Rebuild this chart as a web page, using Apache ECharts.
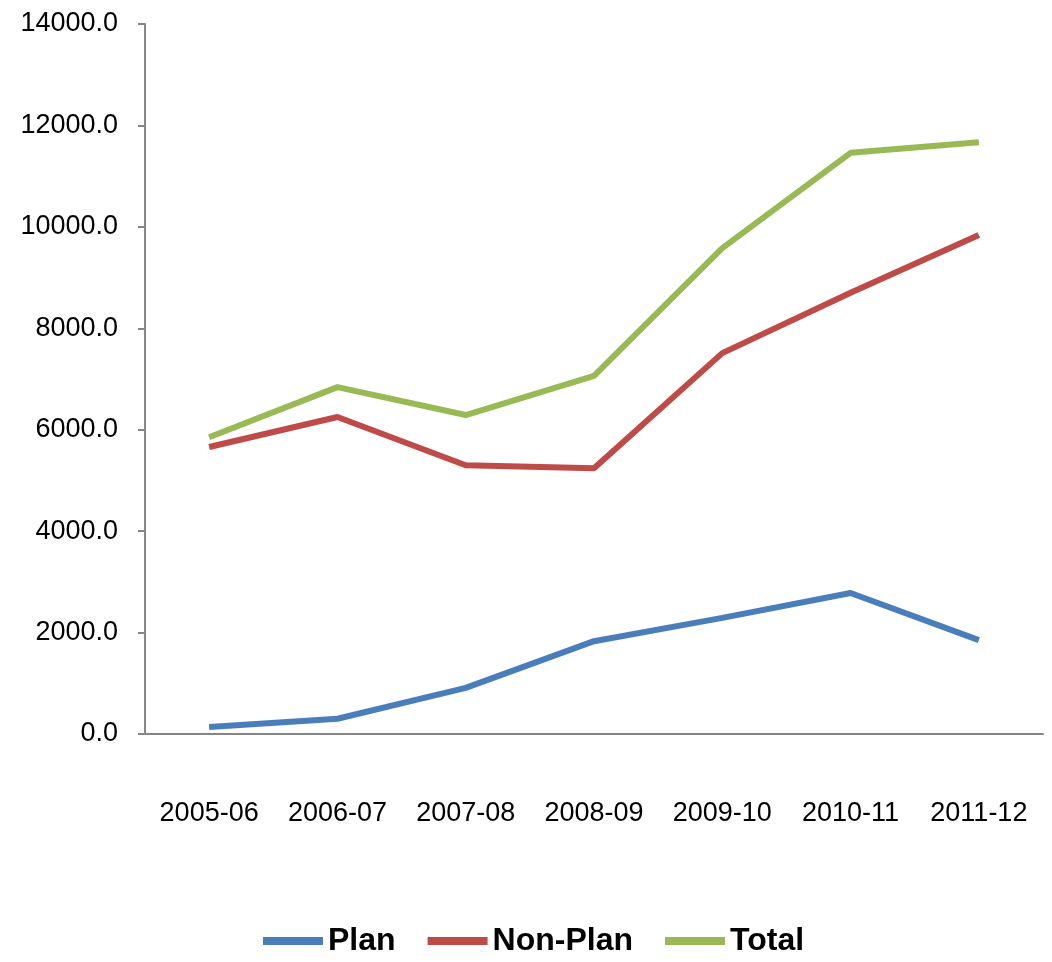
<!DOCTYPE html>
<html lang="en">
<head>
    <meta charset="UTF-8">
    <title>Plan / Non-Plan</title>
    <script src="https://cdn.jsdelivr.net/npm/echarts@6/dist/echarts.min.js"></script>
    <style>
        html, body { margin: 0; padding: 0; background: #fff; }
        #chart { width: 1052px; height: 962px; }
    </style>
</head>
<body>
<div id="chart"></div>
<script type="text/javascript">
    let years = ['2005-06', '2006-07', '2007-08', '2008-09', '2009-10', '2010-11', '2011-12'];
    let plan = [140, 300, 910, 1830, 2290, 2780, 1850];
    let nonPlan = [5660, 6250, 5300, 5240, 7510, 8700, 9840];
    let total = [5850, 6840, 6290, 7060, 9580, 11460, 11670];

    let font = '"Liberation Sans", Arial, sans-serif';

    function line(name, data, color) {
        return {
            name: name,
            type: 'line',
            data: data,
            symbol: 'none',
            lineStyle: { width: 6, color: color },
            itemStyle: { color: color }
        };
    }

    let myChart = echarts.init(document.getElementById('chart'));
    let option = {
        animation: false,
        grid: { left: 145, right: 9, top: 24, bottom: 228 },
        legend: {
            top: 920,
            left: 258,
            itemWidth: 60,
            itemHeight: 8,
            itemGap: 32,
            icon: 'rect',
            textStyle: { fontFamily: font, fontSize: 32, fontWeight: 'bold', color: '#000' },
            data: ['Plan', 'Non-Plan', 'Total']
        },
        xAxis: {
            type: 'category',
            data: years,
            boundaryGap: true,
            axisLine: { lineStyle: { color: '#868686', width: 2 } },
            axisTick: { length: 10, lineStyle: { color: '#868686', width: 2 } },
            axisLabel: { interval: 0, margin: 66, fontFamily: font, fontSize: 27, color: '#000' }
        },
        yAxis: {
            type: 'value',
            min: 0,
            max: 14000,
            interval: 2000,
            axisLine: { show: true, lineStyle: { color: '#868686', width: 2 } },
            axisTick: { show: true, length: 7, lineStyle: { color: '#868686', width: 2 } },
            splitLine: { show: false },
            axisLabel: {
                margin: 27,
                fontFamily: font,
                fontSize: 27,
                color: '#000',
                formatter: function (v) { return v.toFixed(1); }
            }
        },
        series: [
            line('Plan', plan, '#4A7EBB'),
            line('Non-Plan', nonPlan, '#BE4B48'),
            line('Total', total, '#98B954')
        ]
    };
    myChart.setOption(option);
</script>
</body>
</html>
